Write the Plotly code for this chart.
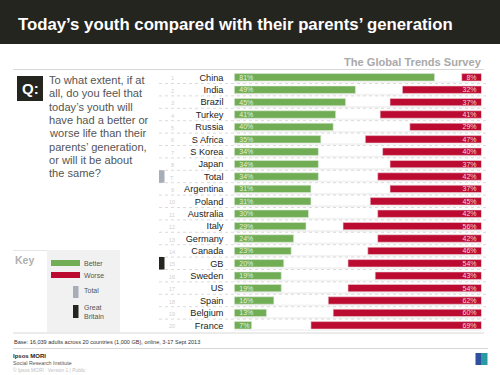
import plotly.graph_objects as go

countries = ["China","India","Brazil","Turkey","Russia","S Africa","S Korea","Japan","Total","Argentina",
             "Poland","Australia","Italy","Germany","Canada","GB","Sweden","US","Spain","Belgium","France"]
ranks = ["1","2","3","4","5","6","7","8","T","9","10","11","12","13","14","15","16","17","18","19","20"]
better = [81,49,45,41,40,35,34,34,34,31,31,30,29,24,23,20,19,19,16,13,7]
worse = [8,32,37,41,29,47,40,37,42,37,45,42,56,42,46,54,43,54,62,60,69]
question = ["To what extent, if at","all, do you feel that","today\u2019s youth will","have had a better or",
            "worse life than their","parents\u2019 generation,","or will it be about","the same?"]

W, H = 500, 375
DARK, GREEN, RED, GREY = "#25251f", "#70ad55", "#bc0b30", "#a7aeb8"
FONT = "Liberation Sans, Arial, sans-serif"
px = lambda x: x / W
py = lambda y: 1 - y / H
rows = list(range(len(countries)))

fig = go.Figure()
fig.add_bar(name="Better", y=rows, x=better, base=0, orientation="h", width=0.6,
            marker=dict(color=GREEN, line=dict(color="#dfe8d8", width=0.6)),
            text=[f"\u00a0{v}%" for v in better], textposition="inside", insidetextanchor="start",
            textangle=0, constraintext="none",
            textfont=dict(family=FONT, size=7, color="#e6f0df"), cliponaxis=False, hoverinfo="skip")
fig.add_bar(name="Worse", y=rows, x=worse, base=[100 - v for v in worse], orientation="h", width=0.6,
            marker=dict(color=RED, line=dict(color="#edd5da", width=0.6)),
            text=[f"{v}%\u00a0" for v in worse], textposition="inside", insidetextanchor="end",
            textangle=0, constraintext="none",
            textfont=dict(family=FONT, size=7, color="#f3d6dc"), cliponaxis=False, hoverinfo="skip")

shapes, notes = [], []
def rect(x0, y0, x1, y1, color, layer="above"):
    shapes.append(dict(type="rect", xref="paper", yref="paper", x0=px(x0), x1=px(x1), y0=py(y0), y1=py(y1),
                       fillcolor=color, line=dict(width=0), layer=layer))
def hline(x0, x1, y, color="#d8d8d8", width=1, dash="solid"):
    shapes.append(dict(type="line", xref="paper", yref="paper", x0=px(x0), x1=px(x1), y0=py(y), y1=py(y),
                       line=dict(color=color, width=width, dash=dash), layer="below"))
def text(x, y, s, size, color="#555555", anchor="left", bold=False):
    shift = {"left": -2, "right": 2, "center": 0}[anchor]
    notes.append(dict(xref="paper", yref="paper", x=px(x + shift), y=py(y), text=f"<b>{s}</b>" if bold else s,
                      showarrow=False, xanchor=anchor, yanchor="middle",
                      font=dict(family=FONT, size=size, color=color)))

# header, rules
rect(0, 0, 500, 44, DARK)
text(18, 24, "Today\u2019s youth compared with their parents\u2019 generation", 16.75, "#ffffff", bold=True)
text(482, 62.5, "The Global Trends Survey", 11.1, "#a9a9a9", "right", True)
hline(13, 484, 69.5)
hline(13, 484, 333)
hline(13, 488, 348.5)

# question
rect(17, 76, 43, 101, DARK)
text(30, 88.5, "Q:", 15, "#ffffff", "center", True)
for i, line in enumerate(question):
    text(48.5, 80 + i * 13.3, line, 11.1)

# row separators and highlight markers
top = 71.1
step = 12.4
for i in rows:
    y = top + (i + 1) * step
    rect(234, y - 2.2, 482, y - 0.4, "#f3f3f3", "below")
    if i < len(rows) - 1:
        hline(159, 486, y, "#cccccc", 0.7, "dot")
    notes.append(dict(xref="paper", yref="y", x=px(172), y=i, text=ranks[i], showarrow=False, xanchor="center",
                      yshift=-1, font=dict(family=FONT, size=5.5, color="#cfcfcf")))
for name, color in (("Total", GREY), ("GB", DARK)):
    i = countries.index(name)
    shapes.append(dict(type="rect", xref="paper", yref="y", x0=px(159), x1=px(164.5), y0=i - 0.5, y1=i + 0.5,
                       fillcolor=color, line=dict(width=0)))

# key
hline(13, 47, 250.5, "#e6e6e6")
rect(47, 250, 120, 332, "#f1f1f1", "below")
text(15, 260, "Key", 10.5, "#b0b0b0", bold=True)
rect(51, 260, 80, 266, GREEN)
rect(51, 272, 80, 278, RED)
rect(73, 286, 78.5, 298, GREY)
rect(73, 305, 78.5, 318, DARK)
text(84, 263, "Better", 7)
text(84, 275, "Worse", 7)
text(84, 290, "Total", 7)
text(84, 307.5, "Great", 7)
text(84, 316, "Britain", 7)

# footer
text(13.5, 342, "Base: 16,039 adults across 20 countries (1,000 GB), online, 3-17 Sept 2013", 5.55, "#333333")
text(13, 355.5, "Ipsos MORI", 6, "#222222", bold=True)
text(13, 363, "Social Research Institute", 5.3, "#555555")
text(13, 370, "\u00a9 Ipsos MORI   Version 1 | Public", 4.9, "#c0c0c0")
rect(475.5, 353, 481, 365, "#2f4f9f")
rect(481, 353, 487.5, 365, "#2a9aa5")

fig.update_layout(
    width=W, height=H, margin=dict(l=0, r=0, t=0, b=0), autosize=False,
    paper_bgcolor="white", plot_bgcolor="rgba(0,0,0,0)", barmode="overlay", showlegend=False,
    shapes=shapes, annotations=notes, font=dict(family=FONT),
    xaxis=dict(domain=[px(234.3), px(481.5)], range=[0, 100], visible=False, fixedrange=True),
    yaxis=dict(domain=[py(top + step * len(rows)), py(top)], range=[len(rows) - 0.5, -0.5],
               tickmode="array", tickvals=rows, ticktext=countries, ticks="outside", ticklen=8,
               tickcolor="rgba(0,0,0,0)", showgrid=False, zeroline=False, showline=False, fixedrange=True,
               tickfont=dict(family=FONT, size=9.2, color="#222222")),
)
fig.write_html("out.html", post_script="document.body.style.margin='0';", config={"displayModeBar": False})
